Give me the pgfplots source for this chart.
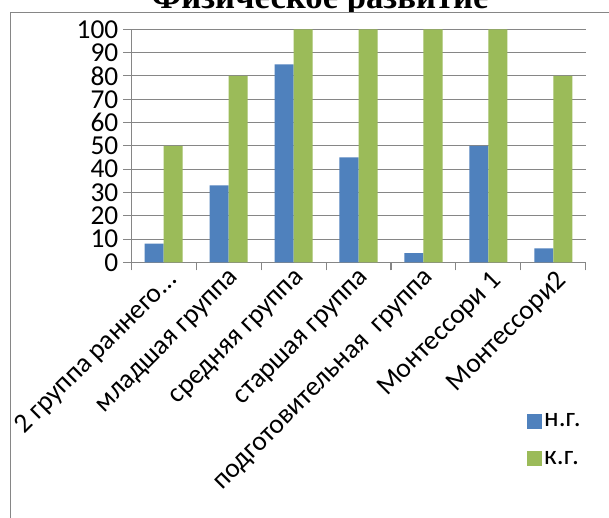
\documentclass[border=0pt]{standalone}
\usepackage{pgfplots}
\pgfplotsset{compat=1.18}
\usepackage{fontspec}
\setmainfont{Carlito}
\newfontfamily\titlefont{Liberation Serif}
\definecolor{ngblue}{HTML}{4F81BD}
\definecolor{kggreen}{HTML}{9BBB59}
\definecolor{gridgray}{HTML}{868686}
\begin{document}
\begin{tikzpicture}
\useasboundingbox (0,0) rectangle (456.75pt,387.75pt);
\node[anchor=base] at (240pt,381pt) {\titlefont\bfseries\fontsize{26}{30}\selectfont Физическое развитие};
\filldraw[fill=white, draw=gridgray, line width=0.75pt] (7.5pt,378.2pt) rectangle (470pt,-10pt);
\begin{axis}[
  at={(98.25pt,191pt)}, anchor=south west,
  scale only axis, width=341.25pt, height=174.75pt,
  ybar=0pt, bar width=14.25pt,
  xmin=-0.5, xmax=6.5, ymin=0, ymax=100,
  ytick={0,10,...,100},
  xtick={0,...,6},
  xticklabels={{2 группа раннего…},{младшая группа},{средняя группа},{старшая группа},{подготовительная\ \ группа},{Монтессори 1},{Монтессори2}},
  minor xtick={-0.5,0.5,...,6.5},
  axis x line*=bottom, axis y line*=left,
  axis line style={gridgray, line width=0.75pt, -},
  ymajorgrids, major grid style={gridgray, line width=0.75pt},
  tick align=outside,
  every tick/.append style={gridgray, line width=0.75pt},
  every major x tick/.append style={draw=none},
  major tick length=6pt, minor tick length=6pt,
  tick label style={font=\fontsize{20.5}{24}\selectfont, text=black},
  /pgf/number format/assume math mode=true,
  xticklabel style={yshift=6pt, xshift=1pt, rotate=45, anchor=north east},
  legend style={at={(0.86,-0.625)}, anchor=north west, draw=none, fill=none,
    font=\fontsize{20.5}{24}\selectfont, row sep=13pt},
  legend cell align=left,
]
\addplot[fill=ngblue, draw=none, legend image code/.code={\fill[ngblue] (0pt,-5.6pt) rectangle (11.25pt,5.6pt);}]
  coordinates {(0,8) (1,33) (2,85) (3,45) (4,4) (5,50) (6,6)};
\addlegendentry{н.г.}
\addplot[fill=kggreen, draw=none, legend image code/.code={\fill[kggreen] (0pt,-5.6pt) rectangle (11.25pt,5.6pt);}]
  coordinates {(0,50) (1,80) (2,100) (3,100) (4,100) (5,100) (6,80)};
\addlegendentry{к.г.}
\end{axis}
\end{tikzpicture}
\end{document}
